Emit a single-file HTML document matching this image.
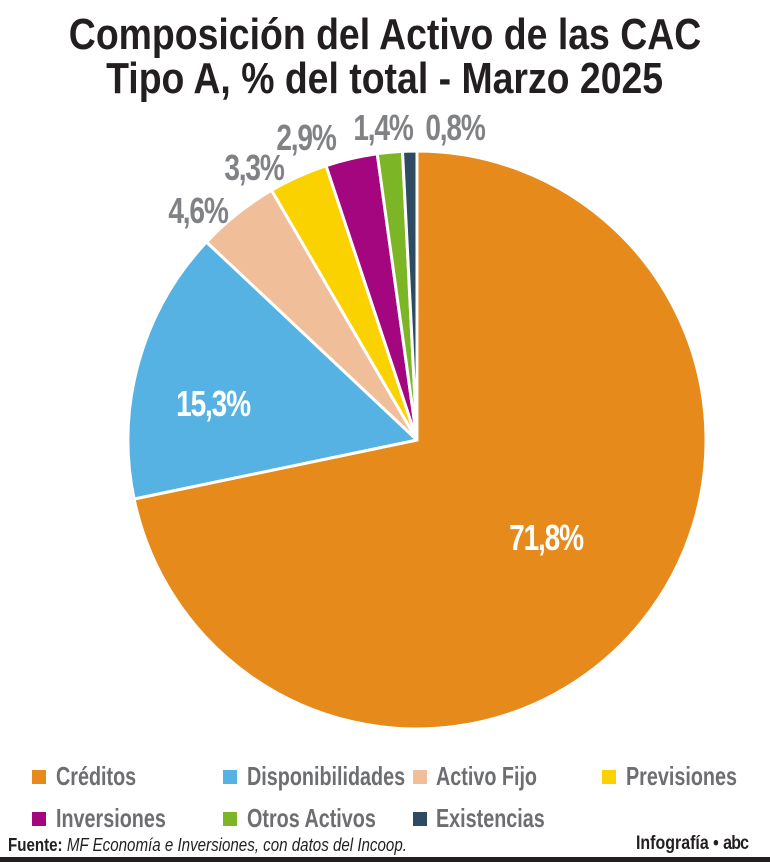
<!DOCTYPE html>
<html><head><meta charset="utf-8"><style>
body{margin:0;width:770px;height:862px;background:#fff;overflow:hidden;position:relative;font-family:"Liberation Sans",sans-serif}
.t{position:absolute;left:0;width:770px;text-align:center;font-weight:bold;font-size:44px;color:#231f20;line-height:44px}
.t span{display:inline-block;transform:scaleX(0.85);transform-origin:center}
.lg{position:absolute;font-size:26px;color:#6d6e71;font-weight:bold;white-space:nowrap;transform:scaleX(0.76);transform-origin:left}
.sq{position:absolute;width:14px;height:14px}
</style></head><body>
<div class="t" style="top:13px"><span>Composición del Activo de las CAC</span></div>
<div class="t" style="top:57px"><span>Tipo A, % del total - Marzo 2025</span></div>
<svg id="s" width="770" height="862" style="position:absolute;left:0;top:0"></svg>
<div class="sq" style="left:32px;top:770px;background:#e58a1b"></div><div class="lg" style="left:56px;top:761px">Créditos</div>
<div class="sq" style="left:223px;top:770px;background:#56b2e2"></div><div class="lg" style="left:247px;top:761px">Disponibilidades</div>
<div class="sq" style="left:413px;top:770px;background:#f0bf9a"></div><div class="lg" style="left:436px;top:761px">Activo Fijo</div>
<div class="sq" style="left:602px;top:770px;background:#fad200"></div><div class="lg" style="left:626px;top:761px">Previsiones</div>
<div class="sq" style="left:32px;top:812px;background:#a3067f"></div><div class="lg" style="left:56px;top:803px">Inversiones</div>
<div class="sq" style="left:223px;top:812px;background:#7cb627"></div><div class="lg" style="left:247px;top:803px">Otros Activos</div>
<div class="sq" style="left:413px;top:812px;background:#2f4b62"></div><div class="lg" style="left:436px;top:803px">Existencias</div>
<div style="position:absolute;left:8px;top:835px;font-size:18px;color:#231f20;white-space:nowrap;transform:scaleX(0.84);transform-origin:left"><b>Fuente:</b> <i>MF Economía e Inversiones, con datos del Incoop.</i></div>
<div style="position:absolute;left:636px;top:833px;font-size:19px;font-weight:bold;color:#231f20;white-space:nowrap;transform:scaleX(0.84);transform-origin:left">Infografía • <span style="font-weight:900;letter-spacing:-1px">abc</span></div>
<div style="position:absolute;left:0;top:857px;width:770px;height:5px;background:#231f20"></div>
<script>
var cx=417,cy=440,r=289,d=[[71.8,"#e58a1b"],[15.3,"#56b2e2"],[4.6,"#f0bf9a"],[3.3,"#fad200"],[2.9,"#a3067f"],[1.4,"#7cb627"],[0.8,"#2f4b62"]];
var tot=100.1,a=0,h="";
function p(t){var g=t*2*Math.PI;return [cx+r*Math.sin(g),cy-r*Math.cos(g)];}
d.forEach(function(v){var f=v[0]/tot,s=p(a),e=p(a+f);h+='<path d="M'+cx+','+cy+'L'+s[0]+','+s[1]+'A'+r+','+r+' 0 '+(f>.5?1:0)+' 1 '+e[0]+','+e[1]+'Z" fill="'+v[1]+'" stroke="#fff" stroke-width="3" stroke-linejoin="round"/>';a+=f;});
var L=[[546,550,"71,8%","#fff"],[213,416,"15,3%","#fff"],[198,223,"4,6%","#808285"],[254,180,"3,3%","#808285"],[306,150,"2,9%","#808285"],[383,140,"1,4%","#808285"],[455,140,"0,8%","#808285"]];
L.forEach(function(l){h+='<text transform="translate('+l[0]+','+l[1]+') scale(0.78,1)" fill="'+l[3]+'" font-size="36" font-weight="bold" text-anchor="middle" letter-spacing="-1.5">'+l[2]+'</text>';});
document.getElementById("s").innerHTML=h;
</script>
</body></html>
